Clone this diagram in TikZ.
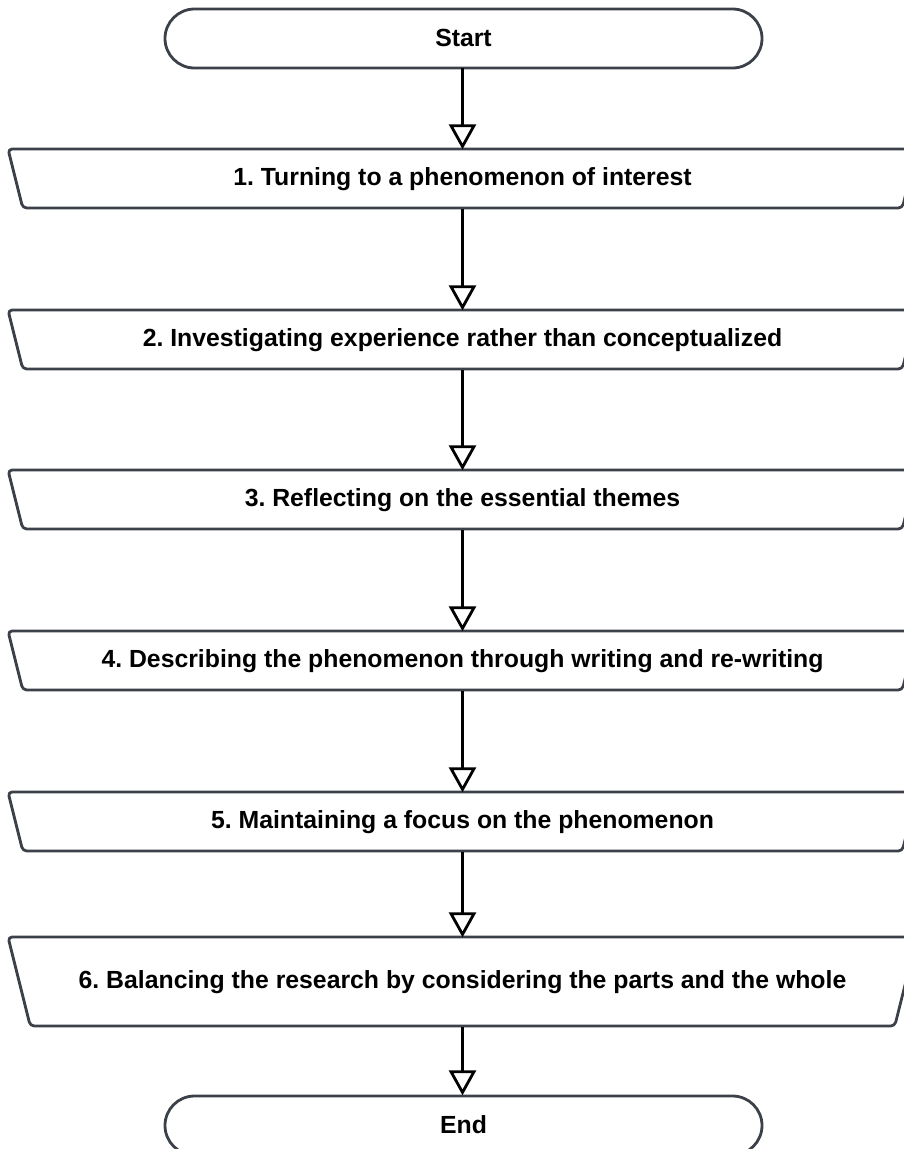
\documentclass[tikz,border=0pt]{standalone}
\usepackage{fontspec}
\setmainfont{Liberation Sans}
\usetikzlibrary{arrows.meta}
\definecolor{edgegray}{HTML}{3B4049}
\frenchspacing
\tikzset{
  x=1pt, y=-1pt,
  outline/.style={draw=edgegray, line width=2.8pt, line join=round},
  label/.style={inner sep=0pt, font=\bfseries\fontsize{24.8}{28}\selectfont, text=black},
  flow/.style={draw=black, line width=3pt,
    -{Triangle[open, length=25pt, width=27pt, line width=2.8pt]}, fill=white},
}
% manual-operation box: wider at the top, slant 0.25 per unit height
\newcommand\opbox[4]{%
  \pgfmathsetmacro\hh{#3-#2}%
  \pgfmathsetmacro\sl{0.25*\hh}%
  \draw[outline, rounded corners=4pt, fill=white]
    ({462.5-454.5},#2) -- ({462.5+454.5},#2) --
    ({462.5+454.5-\sl},#3) -- ({462.5-454.5+\sl},#3) -- cycle;
  \node[label, minimum height={(#3-#2)*1pt}, minimum width=800pt] (#1) at (462.5,{(#2+#3)/2+0.5}) {#4};
}
\begin{document}
\begin{tikzpicture}
\useasboundingbox (0,0) rectangle (904,1149);
\clip (0,0) rectangle (904,1149);

% terminals
\draw[outline, rounded corners=29.5pt, fill=white] (165,9) rectangle (762,68);
\node[label, minimum height=59pt, minimum width=597pt] (start) at (463.5,38) {Start};

\opbox{s1}{149}{208}{1. Turning to a phenomenon of interest}
\opbox{s2}{310}{369}{2. Investigating experience rather than conceptualized}
\opbox{s3}{470}{529}{3. Reflecting on the essential themes}
\opbox{s4}{631}{690}{4. Describing the phenomenon through writing and re-writing}
\opbox{s5}{792}{851}{5. Maintaining a focus on the phenomenon}
\opbox{s6}{937}{1026}{6. Balancing the research by considering the parts and the whole}

\draw[outline, rounded corners=29.5pt, fill=white] (165,1096) rectangle (762,1155);
\node[label, minimum height=59pt, minimum width=597pt] (end) at (463.5,1125) {End};

% connectors
\draw[flow] (start.south -| s1.north) -- (s1.north);
\draw[flow] (s1.south) -- (s2.north);
\draw[flow] (s2.south) -- (s3.north);
\draw[flow] (s3.south) -- (s4.north);
\draw[flow] (s4.south) -- (s5.north);
\draw[flow] (s5.south) -- (s6.north);
\draw[flow] (s6.south) -- (end.north -| s6.south);
\end{tikzpicture}
\end{document}
